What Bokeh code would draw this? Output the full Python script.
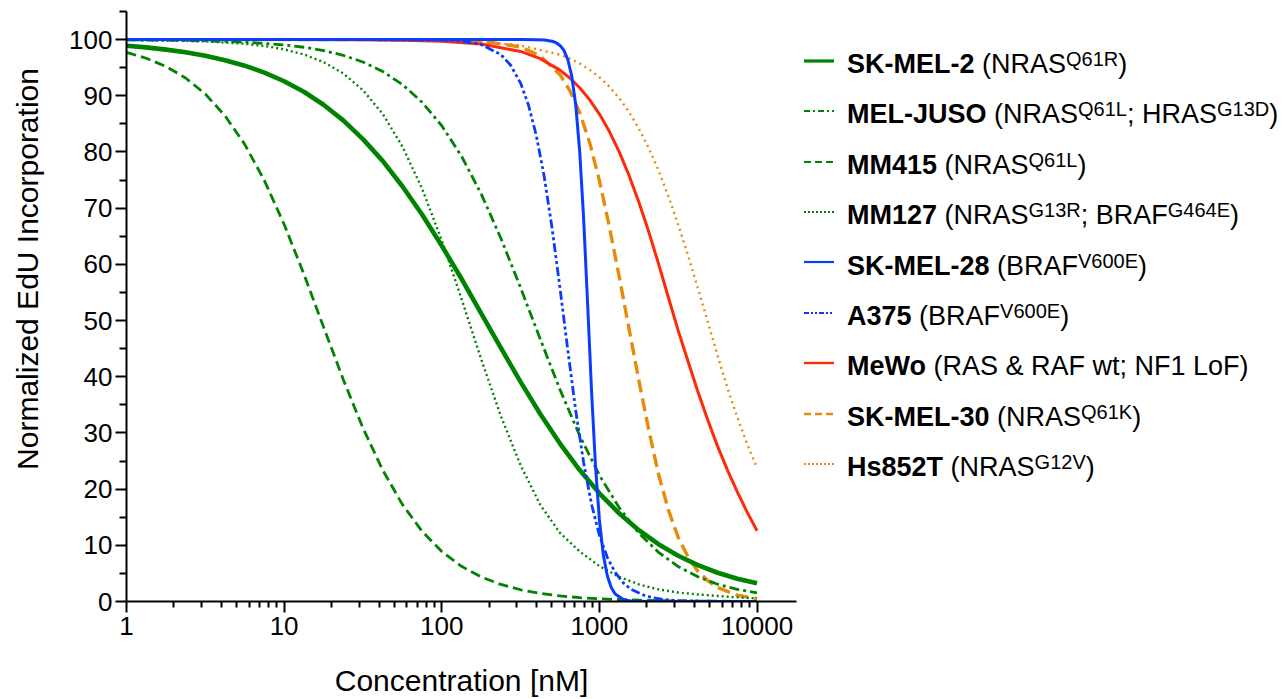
from bokeh.plotting import figure
from bokeh.models import Range1d, FixedTicker, PrintfTickFormatter, Div
from bokeh.layouts import row
from bokeh.embed import file_html
from bokeh.resources import INLINE

# ---------------- data (concentration in nM, % EdU) ----------------
sk_mel_2_x = [1, 1.334, 1.778, 2.371, 3.162, 4.217, 5.623, 7.499, 10, 13.34, 17.78, 23.71, 31.62, 42.17,
              56.23, 74.99, 100, 133.4, 177.8, 237.1, 316.2, 421.7, 562.3, 749.9, 1000, 1334, 1778, 2371,
              3162, 4217, 5623, 7499, 10000]
sk_mel_2_y = [98.91, 98.61, 98.22, 97.74, 97.12, 96.34, 95.36, 94.13, 92.59, 90.72, 88.40, 85.63, 82.28,
              78.41, 73.90, 68.88, 63.32, 57.43, 51.28, 45.12, 39.09, 33.38, 28.11, 23.40, 19.25, 15.70,
              12.69, 10.19, 8.14, 6.47, 5.12, 4.05, 3.25]

mel_juso_x = [1, 1.778, 3.162, 5.623, 10, 13.34, 17.78, 23.71, 31.62, 42.17, 56.23, 74.99, 100, 133.4,
              177.8, 237.1, 316.2, 421.7, 562.3, 749.9, 1000, 1334, 1778, 2371, 3162, 4217, 5623, 7499, 10000]
mel_juso_y = [99.95, 99.90, 99.78, 99.55, 99.06, 98.64, 98.05, 97.21, 96.01, 94.34, 92.02, 88.86, 84.67,
              79.25, 72.55, 64.64, 55.84, 46.69, 37.71, 29.53, 22.47, 16.71, 12.18, 8.76, 6.22, 4.39,
              3.08, 2.15, 1.55]

mm415_x = [1, 1.334, 1.778, 2.371, 3.162, 4.217, 5.623, 7.499, 10, 13.34, 17.78, 23.71, 31.62, 42.17,
           56.23, 74.99, 100, 133.4, 177.8, 237.1, 316.2, 421.7, 562.3, 749.9, 1000, 1778, 3162, 5623, 10000]
mm415_y = [97.71, 96.68, 95.23, 93.17, 90.32, 86.45, 81.36, 74.91, 67.12, 58.27, 48.86, 39.52, 30.87,
           23.40, 17.28, 12.50, 8.90, 6.26, 4.37, 3.03, 2.09, 1.44, 0.99, 0.68, 0.47, 0.22, 0.10, 0.05, 0.02]

mm127_x = [1, 3.162, 5.623, 7.499, 10, 13.34, 17.78, 23.71, 31.62, 42.17, 56.23, 74.99, 100, 133.4,
           177.8, 237.1, 316.2, 421.7, 562.3, 749.9, 1000, 1334, 1778, 2371, 3162, 4217, 5623, 7499, 10000]
mm127_y = [99.94, 99.69, 99.26, 98.87, 98.27, 97.36, 96.0, 93.97, 91.0, 86.79, 81.0, 73.48, 64.27, 53.88,
           43.14, 33.0, 24.24, 17.2, 12.2, 8.9, 6.3, 4.4, 3.05, 2.15, 1.6, 1.25, 0.98, 0.74, 0.55]

sk_mel_28_x = [1, 10, 100, 316.2, 398.1, 446.7, 501.2, 530.9, 562.3, 595.7, 631.0, 668.3, 707.9, 749.9,
               794.3, 841.4, 891.3, 944.1, 1000, 1059, 1122, 1189, 1259, 1413, 1585, 1995, 3162, 10000]
sk_mel_28_y = [100, 100, 100, 100, 99.98, 99.92, 99.71, 99.45, 98.96, 98.07, 96.41, 93.46, 88.36, 80.11,
               68.13, 53.16, 37.6, 24.24, 14.52, 8.27, 4.57, 2.48, 1.33, 0.38, 0.11, 0.01, 0, 0]

a375_x = [1, 10, 31.62, 100, 133.4, 177.8, 237.1, 273.8, 316.2, 354.8, 398.1, 446.7, 501.2, 562.3,
          631.0, 707.9, 794.3, 891.3, 1000, 1122, 1259, 1413, 1585, 1995, 2512, 3162, 5623, 10000]
a375_y = [100, 100, 99.99, 99.91, 99.71, 99.12, 97.34, 95.43, 92.26, 88.38, 82.92, 75.60, 66.41, 55.79,
          44.64, 33.96, 24.70, 17.32, 11.79, 7.86, 5.17, 3.36, 2.17, 0.90, 0.37, 0.15, 0.02, 0]

mewo_x = [1, 10, 31.62, 56.23, 100, 177.8, 316.2, 421.7, 562.3, 649.4, 749.9, 866.0, 1000, 1155, 1334,
          1540, 1778, 2054, 2371, 2738, 3162, 3652, 4217, 4870, 5623, 6494, 7499, 8660, 10000]
mewo_y = [100, 100, 99.96, 99.89, 99.70, 99.20, 97.89, 96.60, 94.57, 93.17, 91.44, 89.31, 86.75, 83.67,
          80.06, 75.85, 71.10, 65.83, 60.13, 54.15, 48.2, 42.70, 37.34, 32.29, 27.61, 23.38, 19.5, 15.9, 12.6]

sk_mel_30_x = [1, 31.62, 100, 177.8, 316.2, 421.7, 562.3, 649.4, 749.9, 866.0, 1000, 1155, 1334, 1540,
               1778, 2054, 2371, 2738, 3162, 3652, 4217, 4870, 5623, 7499, 10000]
sk_mel_30_y = [100, 100, 99.95, 99.74, 98.69, 97.11, 93.75, 90.93, 87.01, 81.74, 74.9, 66.8, 57.9, 48.6,
               39.4, 30.6, 22.7, 16.3, 11.4, 7.9, 5.4, 3.7, 2.5, 1.12, 0.5]

hs852t_x = [1, 31.62, 100, 177.8, 316.2, 562.3, 649.4, 749.9, 866.0, 1000, 1155, 1334, 1540, 1778, 2054,
            2371, 2738, 3162, 3652, 4217, 4870, 5623, 6494, 7499, 8660, 10000]
hs852t_y = [100, 99.98, 99.85, 99.60, 98.96, 97.32, 96.63, 95.75, 94.65, 93.30, 91.63, 89.60, 87.14, 84.18,
            80.72, 76.72, 72.14, 67.07, 61.57, 55.73, 49.76, 43.78, 37.98, 32.8, 28.0, 23.8]

x_tick_values = [1, 10, 100, 1000, 10000]
y_tick_values = [0, 10, 20, 30, 40, 50, 60, 70, 80, 90, 100]

cell_lines = ["SK-MEL-2", "MEL-JUSO", "MM415", "MM127", "SK-MEL-28", "A375", "MeWo", "SK-MEL-30", "Hs852T"]
genotypes = [
    [("(NRAS", False), ("Q61R", True), (")", False)],
    [("(NRAS", False), ("Q61L", True), ("; HRAS", False), ("G13D", True), (")", False)],
    [("(NRAS", False), ("Q61L", True), (")", False)],
    [("(NRAS", False), ("G13R", True), ("; BRAF", False), ("G464E", True), (")", False)],
    [("(BRAF", False), ("V600E", True), (")", False)],
    [("(BRAF", False), ("V600E", True), (")", False)],
    [("(RAS &amp; RAF wt; NF1 LoF)", False)],
    [("(NRAS", False), ("Q61K", True), (")", False)],
    [("(NRAS", False), ("G12V", True), (")", False)],
]

# ---------------- styles ----------------
GREEN = "#008300"
BLUE = "#0a3cff"
RED = "#ff2a0a"
ORANGE = "#e88a0c"
FONT = "Liberation Sans"

curves = {
    "SK-MEL-2": (sk_mel_2_x, sk_mel_2_y, GREEN, 4.6, "solid"),
    "MEL-JUSO": (mel_juso_x, mel_juso_y, GREEN, 2.8, "10 4 3 4"),
    "MM415": (mm415_x, mm415_y, GREEN, 2.8, "10 5"),
    "MM127": (mm127_x, mm127_y, GREEN, 2.4, "2 3"),
    "SK-MEL-28": (sk_mel_28_x, sk_mel_28_y, BLUE, 3.0, "solid"),
    "A375": (a375_x, a375_y, BLUE, 2.8, "9 3 3 3 3 3"),
    "MeWo": (mewo_x, mewo_y, RED, 3.0, "solid"),
    "SK-MEL-30": (sk_mel_30_x, sk_mel_30_y, ORANGE, 3.4, "13 6"),
    "Hs852T": (hs852t_x, hs852t_y, ORANGE, 2.4, "2 4"),
}
legend_dash = {
    "SK-MEL-2": ("solid", 3.2), "MEL-JUSO": ("6 3 2 3", 2), "MM415": ("7 4", 2.2),
    "MM127": ("2 2", 1.8), "SK-MEL-28": ("solid", 2.2), "A375": ("5 2 2 2 2 2", 2),
    "MeWo": ("solid", 2.4), "SK-MEL-30": ("7 4", 2.4), "Hs852T": ("2 2", 1.8),
}
draw_order = ["Hs852T", "SK-MEL-30", "MeWo", "MM127", "MM415", "MEL-JUSO", "SK-MEL-2", "A375", "SK-MEL-28"]

# ---------------- y-axis title (HTML, rotated) ----------------
ylabel_html = (
    '<div style="position:relative;width:50px;height:699px;">'
    '<div style="position:absolute;left:27.6px;top:268.5px;transform:translate(-50%,-50%) rotate(-90deg);'
    f'white-space:nowrap;font-family:\'{FONT}\',Arial,sans-serif;font-size:30px;line-height:30px;color:#000;">'
    'Normalized EdU Incorporation</div></div>'
)
ylabel_div = Div(text=ylabel_html, width=50, height=699, margin=(0, 0, 0, 0))

# ---------------- plot ----------------
p = figure(width=754, height=699, x_axis_type="log",
           x_range=Range1d(1, 17800), y_range=Range1d(0, 105),
           output_backend="svg", toolbar_location=None,
           min_border_left=76, min_border_right=8, min_border_top=11, min_border_bottom=98)
p.outline_line_color = None
p.grid.visible = False
p.background_fill_color = "white"
p.border_fill_color = "white"

for name in draw_order:
    xs, ys, color, w, dash = curves[name]
    p.line(xs, ys, line_color=color, line_width=w, line_dash=dash, line_join="round")

minor_x = [m * d for d in (1, 10, 100, 1000) for m in range(2, 10)]
p.xaxis.ticker = FixedTicker(ticks=x_tick_values, minor_ticks=minor_x)
p.xaxis.formatter = PrintfTickFormatter(format="%d")
p.yaxis.ticker = FixedTicker(ticks=y_tick_values, minor_ticks=[5 + 10 * k for k in range(11)])

for ax in (p.xaxis[0], p.yaxis[0]):
    ax.axis_line_width = 2
    ax.axis_line_color = "black"
    ax.major_tick_line_width = 2
    ax.minor_tick_line_width = 2
    ax.major_tick_line_color = "black"
    ax.minor_tick_line_color = "black"
    ax.major_tick_in = 0
    ax.major_tick_out = 11
    ax.minor_tick_in = 0
    ax.major_label_text_font = FONT
    ax.major_label_text_font_size = "26px"
    ax.major_label_text_color = "black"

p.xaxis.minor_tick_out = 6
p.yaxis.minor_tick_out = 7
p.xaxis.major_label_standoff = 4
p.yaxis.major_label_standoff = 3
p.xaxis.axis_label = "Concentration [nM]"
p.xaxis.axis_label_text_font = FONT
p.xaxis.axis_label_text_font_size = "30px"
p.xaxis.axis_label_text_font_style = "normal"
p.xaxis.axis_label_text_color = "black"
p.xaxis.axis_label_standoff = 26

# ---------------- legend (HTML) ----------------
rows_html = []
for i, name in enumerate(cell_lines):
    c = 64.2 + 50.4 * i
    dash, lw = legend_dash[name]
    color = curves[name][2]
    da = "" if dash == "solid" else f' stroke-dasharray="{dash.replace(" ", ",")}"'
    svg = (f'<svg width="30" height="12" style="position:absolute;left:0;top:{c - 3.5 - 6:.1f}px;">'
           f'<line x1="0" y1="6" x2="30" y2="6" stroke="{color}" stroke-width="{lw}"{da}/></svg>')
    parts = []
    for txt, sup in genotypes[i]:
        if sup:
            parts.append(f'<span style="font-size:20px;vertical-align:7px;line-height:0;">{txt}</span>')
        else:
            parts.append(txt)
    text = (f'<span style="position:absolute;left:43px;top:{c - 25.2:.1f}px;line-height:51px;'
            f'font-size:27px;white-space:nowrap;"><b>{name}</b> {"".join(parts)}</span>')
    rows_html.append(svg + text)

legend_html = (f'<div style="position:relative;width:476px;height:699px;'
               f'font-family:\'{FONT}\',Arial,sans-serif;color:#000;">' + "".join(rows_html) + '</div>')
legend = Div(text=legend_html, width=476, height=699, margin=(0, 0, 0, 0))

layout = row(ylabel_div, p, legend, spacing=0)

html = file_html(layout, INLINE, title="EdU dose response")
with open("out.html", "w") as f:
    f.write(html)
